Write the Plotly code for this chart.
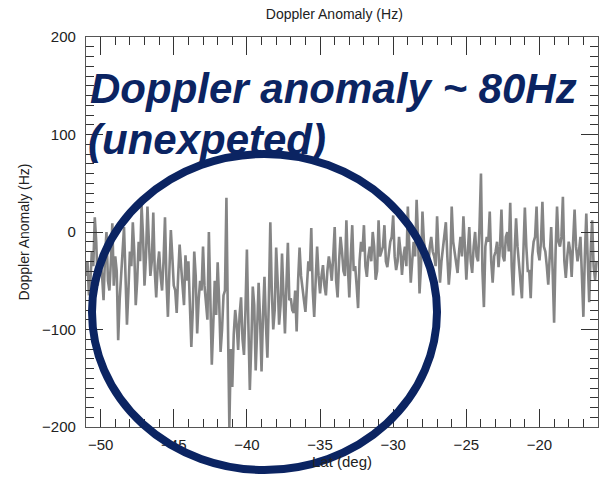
import plotly.graph_objects as go

# Latitude samples (deg) and Doppler anomaly (Hz): extreme strokes
lat_a = [-51.0, -50.8, -50.6, -50.4, -50.2, -50.0, -49.8, -49.6, -49.4, -49.2,
         -49.0, -48.8, -48.6, -48.4, -48.2, -48.0, -47.8, -47.6, -47.4, -47.2,
         -47.0, -46.8, -46.6, -46.4, -46.2, -46.0, -45.8, -45.6, -45.4, -45.2,
         -45.0, -44.8, -44.6, -44.4, -44.2, -44.0, -43.8, -43.6, -43.4, -43.2,
         -43.0, -42.8, -42.6, -42.4, -42.2, -42.0, -41.8, -41.6, -41.4, -41.2,
         -41.0, -40.8, -40.6, -40.4, -40.2, -40.0, -39.8, -39.6, -39.4, -39.2,
         -39.0, -38.8, -38.6, -38.4, -38.2, -38.0, -37.8, -37.6, -37.4, -37.2,
         -37.0, -36.8, -36.6, -36.4, -36.2, -36.0, -35.8, -35.6, -35.4, -35.2,
         -35.0, -34.8, -34.6, -34.4, -34.2, -34.0, -33.8, -33.6, -33.4, -33.2,
         -33.0, -32.8, -32.6, -32.4, -32.2, -32.0, -31.8, -31.6, -31.4, -31.2,
         -31.0, -30.8, -30.6, -30.4, -30.2, -30.0, -29.8, -29.6, -29.4, -29.2,
         -29.0, -28.8, -28.6, -28.4, -28.2, -28.0, -27.8, -27.6, -27.4, -27.2,
         -27.0, -26.8, -26.6, -26.4, -26.2, -26.0, -25.8, -25.6, -25.4, -25.2,
         -25.0, -24.8, -24.6, -24.4, -24.2, -24.0, -23.8, -23.6, -23.4, -23.2,
         -23.0, -22.8, -22.6, -22.4, -22.2, -22.0, -21.8, -21.6, -21.4, -21.2,
         -21.0, -20.8, -20.6, -20.4, -20.2, -20.0, -19.8, -19.6, -19.4, -19.2,
         -19.0, -18.8, -18.6, -18.4, -18.2, -18.0, -17.8, -17.6, -17.4, -17.2,
         -17.0, -16.8, -16.6, -16.4, -16.2]

doppler_a = [-45, -65, -20, 15, -55, -30, -70, 0, -60, 9,
             -25, -111, -40, 5, -95, -20, 10, -75, -10, 27,
             -55, 26, -45, 20, -67, -20, -60, 15, -87, 2,
             -55, -83, -13, -60, -24, -30, -118, -20, -104, -50,
             -15, -70, 0, -136, -50, -31, -123, -65, 35, -200,
             -159, -80, -121, -67, -126, -18, -162, -56, -142, -52,
             -143, -46, -129, 10, -100, -16, -95, -22, -104, -11,
             -68, -83, -102, -16, -60, -82, -30, 4, -87, -15,
             -63, -34, -65, -25, -50, 5, -67, -5, -40, 12,
             -67, 7, -35, -78, -10, 7, -46, -15, 0, -49,
             12, -20, 7, -36, -10, 17, -39, -5, -44, -15,
             26, -52, -10, 33, -63, 21, -20, -36, -5, -25,
             16, -52, -15, 10, -54, 26, -20, -42, -5, 16,
             -49, 5, -42, 0, -30, 60, -77, -5, 21, -52,
             -20, -36, 23, -30, 0, 30, -65, 14, -35, -68,
             25, -40, -68, -10, 26, -29, 31, -20, -54, 5,
             -93, 26, -15, 36, -47, -10, -46, 23, -30, -5,
             -87, 19, -72, 12, -49]

lat_b = [-50.9, -50.7, -50.5, -50.3, -50.1, -49.9, -49.7, -49.5, -49.3, -49.1,
         -48.9, -48.7, -48.5, -48.3, -48.1, -47.9, -47.7, -47.5, -47.3, -47.1,
         -46.9, -46.7, -46.5, -46.3, -46.1, -45.9, -45.7, -45.5, -45.3, -45.1,
         -44.9, -44.7, -44.5, -44.3, -44.1, -43.9, -43.7, -43.5, -43.3, -43.1,
         -42.9, -42.7, -42.5, -42.3, -42.1, -41.9, -41.7, -41.5, -41.3, -41.1,
         -40.9, -40.7, -40.5, -40.3, -40.1, -39.9, -39.7, -39.5, -39.3, -39.1,
         -38.9, -38.7, -38.5, -38.3, -38.1, -37.9, -37.7, -37.5, -37.3, -37.1,
         -36.9, -36.7, -36.5, -36.3, -36.1, -35.9, -35.7, -35.5, -35.3, -35.1,
         -34.9, -34.7, -34.5, -34.3, -34.1, -33.9, -33.7, -33.5, -33.3, -33.1,
         -32.9, -32.7, -32.5, -32.3, -32.1, -31.9, -31.7, -31.5, -31.3, -31.1,
         -30.9, -30.7, -30.5, -30.3, -30.1, -29.9, -29.7, -29.5, -29.3, -29.1,
         -28.9, -28.7, -28.5, -28.3, -28.1, -27.9, -27.7, -27.5, -27.3, -27.1,
         -26.9, -26.7, -26.5, -26.3, -26.1, -25.9, -25.7, -25.5, -25.3, -25.1,
         -24.9, -24.7, -24.5, -24.3, -24.1, -23.9, -23.7, -23.5, -23.3, -23.1,
         -22.9, -22.7, -22.5, -22.3, -22.1, -21.9, -21.7, -21.5, -21.3, -21.1,
         -20.9, -20.7, -20.5, -20.3, -20.1, -19.9, -19.7, -19.5, -19.3, -19.1,
         -18.9, -18.7, -18.5, -18.3, -18.1, -17.9, -17.7, -17.5, -17.3, -17.1,
         -16.9, -16.7, -16.5, -16.3, -16.1]

doppler_b = [-30, -50, -35, -10, -40, -45, -25, -50, -30, -55,
             -40, -70, -15, -45, -60, -35, -20, -50, -30, -5,
             -25, -10, -30, -40, -35, -45, -30, -50, -40, -25,
             -60, -45, -35, -75, -50, -65, -80, -45, -70, -60,
             -55, -90, -75, -95, -85, -70, -100, -60, -90, -120,
             -105, -95, -85, -110, -80, -95, -115, -75, -100, -90,
             -85, -95, -70, -60, -80, -50, -75, -65, -55, -70,
             -80, -60, -50, -45, -70, -55, -40, -60, -50, -45,
             -45, -55, -40, -35, -25, -50, -30, -20, -45, -35,
             -25, -40, -55, -30, -20, -35, -25, -30, -15, -40,
             -25, -15, -30, -20, -5, -25, -30, -20, -25, -35,
             -15, -30, -25, -5, -35, -10, -25, -15, -20, -35,
             -20, -30, -5, -25, -35, -10, -30, -20, -25, -15,
             -20, -30, -15, -25, 5, -40, -15, -10, -30, -25,
             -10, -15, -25, -5, -20, -35, -20, -15, -45, -20,
             -15, -40, -25, -5, -20, -10, -15, -35, -25, -40,
             -20, -10, -5, -30, -25, -20, -10, -15, -20, -45,
             -25, -30, -20, -35, -30]

x_ticks = [-50, -45, -40, -35, -30, -25, -20]
y_ticks = [-200, -100, 0, 100, 200]

# Merge the two sets of samples in latitude order
pairs = sorted(zip(lat_a + lat_b, doppler_a + doppler_b))
lat = [p[0] for p in pairs]
doppler = [p[1] for p in pairs]

NAVY = "#0b2462"
FONT = "Liberation Sans, Arial, Helvetica, sans-serif"

fig = go.Figure()
fig.add_trace(go.Scatter(x=lat, y=doppler, mode="lines",
                         line=dict(color="#858585", width=2.6),
                         showlegend=False, hoverinfo="skip"))

axis_common = dict(
    showgrid=False, zeroline=False, showline=True, linecolor="#555555",
    linewidth=1.2, mirror="ticks", ticks="inside", tickcolor="#333333",
    tickwidth=1, tickfont=dict(family=FONT, size=15, color="#222222"),
)

fig.update_xaxes(range=[-51, -16], tickvals=x_ticks, ticklen=18,
                 minor=dict(dtick=1, ticks="inside", ticklen=8, tickcolor="#333333", tickwidth=1),
                 title=dict(text="Lat (deg)", font=dict(family=FONT, size=15, color="#222222"), standoff=4),
                 ticklabelstandoff=4,
                 **axis_common)
fig.update_yaxes(range=[-200, 200], tickvals=y_ticks, ticklen=17,
                 minor=dict(dtick=10, ticks="inside", ticklen=8, tickcolor="#333333", tickwidth=1),
                 title=dict(text="Doppler Anomaly (Hz)", font=dict(family=FONT, size=14, color="#222222"), standoff=9),
                 ticklabelstandoff=6,
                 **axis_common)

fig.update_layout(
    width=609, height=481,
    margin=dict(l=86, r=11, t=37, b=54, autoexpand=False),
    paper_bgcolor="white", plot_bgcolor="white",
    title=dict(text="Doppler Anomaly (Hz)", x=0.549, xanchor="center", y=0.97, yanchor="middle",
               font=dict(family=FONT, size=14, color="#222222")),
)

# Big highlight circle
fig.add_shape(type="circle", xref="paper", yref="paper",
              x0=(92 - 86) / 512, x1=(437 - 86) / 512,
              y0=(427 - 470) / 390, y1=(427 - 154) / 390,
              line=dict(color=NAVY, width=8), layer="above")

# Overlaid annotation text
fig.add_annotation(text="<b><i>Doppler anomaly ~ 80Hz</i></b>", xref="paper", yref="paper",
                   x=(88 - 86) / 512, y=(427 - 89) / 390, xanchor="left", yanchor="middle",
                   showarrow=False, font=dict(family=FONT, size=42, color=NAVY))
fig.add_annotation(text="<b><i>(unexpeted)</i></b>", xref="paper", yref="paper",
                   x=(86 - 86) / 512, y=(427 - 139) / 390, xanchor="left", yanchor="middle",
                   showarrow=False, font=dict(family=FONT, size=42, color=NAVY))

fig.write_html("out.html")
